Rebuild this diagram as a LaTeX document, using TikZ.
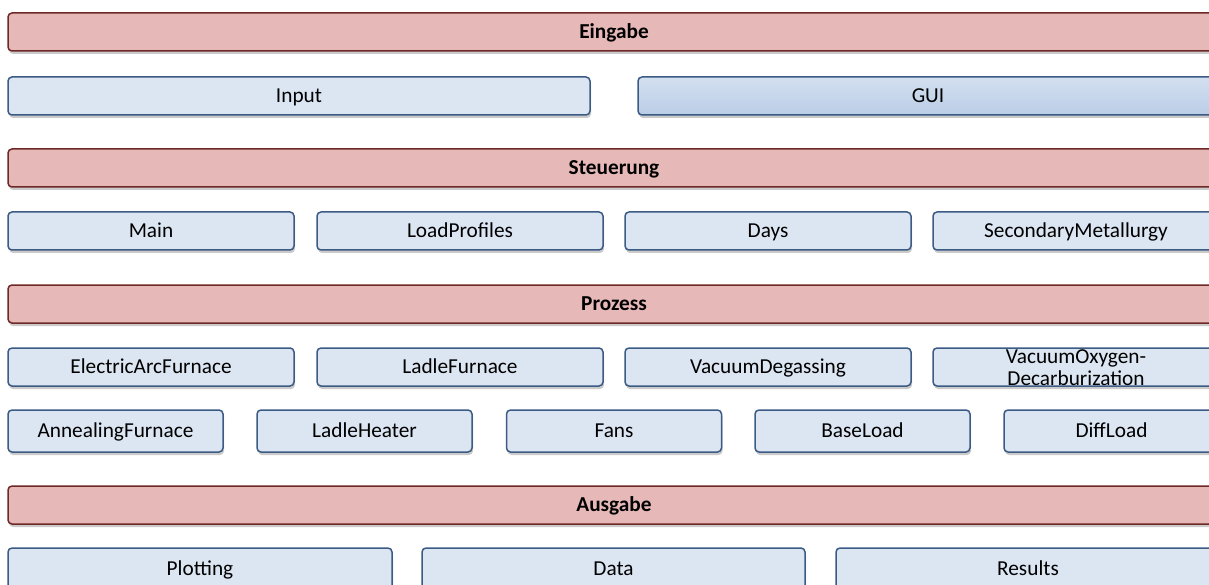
\documentclass[tikz,border=0pt]{standalone}
\usepackage{fontspec}
\setmainfont{Carlito}
\usetikzlibrary{shadows}
\definecolor{redfill}{HTML}{E6B9B8}
\definecolor{redline}{HTML}{6E2927}
\definecolor{bluefill}{HTML}{DCE6F2}
\definecolor{blueline}{HTML}{3B5A84}
\definecolor{guitop}{HTML}{D3E0F0}
\definecolor{guibot}{HTML}{BACDE6}
\tikzset{
  boxbase/.style={rounded corners=4pt, line width=1.5pt, inner sep=0pt,
    font=\fontsize{21.3}{24}\selectfont, text height=17.5pt, text depth=4pt,
    drop shadow={shadow xshift=1pt, shadow yshift=-3pt, opacity=0.35, fill=black!60}},
  layer/.style={boxbase, draw=redline, fill=redfill, minimum width=1212pt, minimum height=38pt,
    font=\fontsize{21.3}{24}\selectfont\bfseries},
  modbox/.style={boxbase, draw=blueline, fill=bluefill, minimum height=38pt},
  guibox/.style={boxbase, draw=blueline, top color=guitop, bottom color=guibot, minimum height=38pt},
  lbl/.style={inner sep=0pt, align=center, font=\fontsize{21.3}{22}\selectfont}
}
\begin{document}
\begin{tikzpicture}[x=1pt,y=-1pt]
\useasboundingbox (0,0) rectangle (1209,585);
\clip (0,0) rectangle (1209,585);
% Eingabe
\node[layer] (eingabe) at (614,32) {Eingabe};
\node[modbox, minimum width=582pt] (input) at (299,96) {Input};
\node[guibox, minimum width=580pt] (gui) at (928,96) {GUI};
% Steuerung
\node[layer] (steuerung) at (614,168) {Steuerung};
\node[modbox, minimum width=286pt] (main) at (151,231) {Main};
\node[modbox, minimum width=286pt] (loadprofiles) at (460,231) {LoadProfiles};
\node[modbox, minimum width=286pt] (days) at (768,231) {Days};
\node[modbox, minimum width=286pt] (secmet) at (1076,231) {SecondaryMetallurgy};
% Prozess
\node[layer] (prozess) at (614,304) {Prozess};
\node[modbox, minimum width=286pt] (eaf) at (151,367) {ElectricArcFurnace};
\node[modbox, minimum width=286pt] (lf) at (460,367) {LadleFurnace};
\node[modbox, minimum width=286pt] (vd) at (768,367) {VacuumDegassing};
\node[modbox, minimum width=286pt] (vod) at (1076,367) {};
\node[lbl] (vodtext) at (1076,368) {VacuumOxygen-\\Decarburization};
\node[modbox, minimum width=215pt, minimum height=42pt] (af) at (115.5,431) {AnnealingFurnace};
\node[modbox, minimum width=215pt, minimum height=42pt] (lh) at (364.5,431) {LadleHeater};
\node[modbox, minimum width=215pt, minimum height=42pt] (fans) at (614,431) {Fans};
\node[modbox, minimum width=215pt, minimum height=42pt] (baseload) at (862.5,431) {BaseLoad};
\node[modbox, minimum width=215pt, minimum height=42pt] (diffload) at (1111.5,431) {DiffLoad};
% Ausgabe
\node[layer] (ausgabe) at (614,505) {Ausgabe};
\node[modbox, minimum width=384pt, minimum height=42pt] (plotting) at (200,569) {Plotting};
\node[modbox, minimum width=383pt, minimum height=42pt] (data) at (613.5,569) {Data};
\node[modbox, minimum width=384pt, minimum height=42pt] (results) at (1028,569) {Results};
\end{tikzpicture}
\end{document}
